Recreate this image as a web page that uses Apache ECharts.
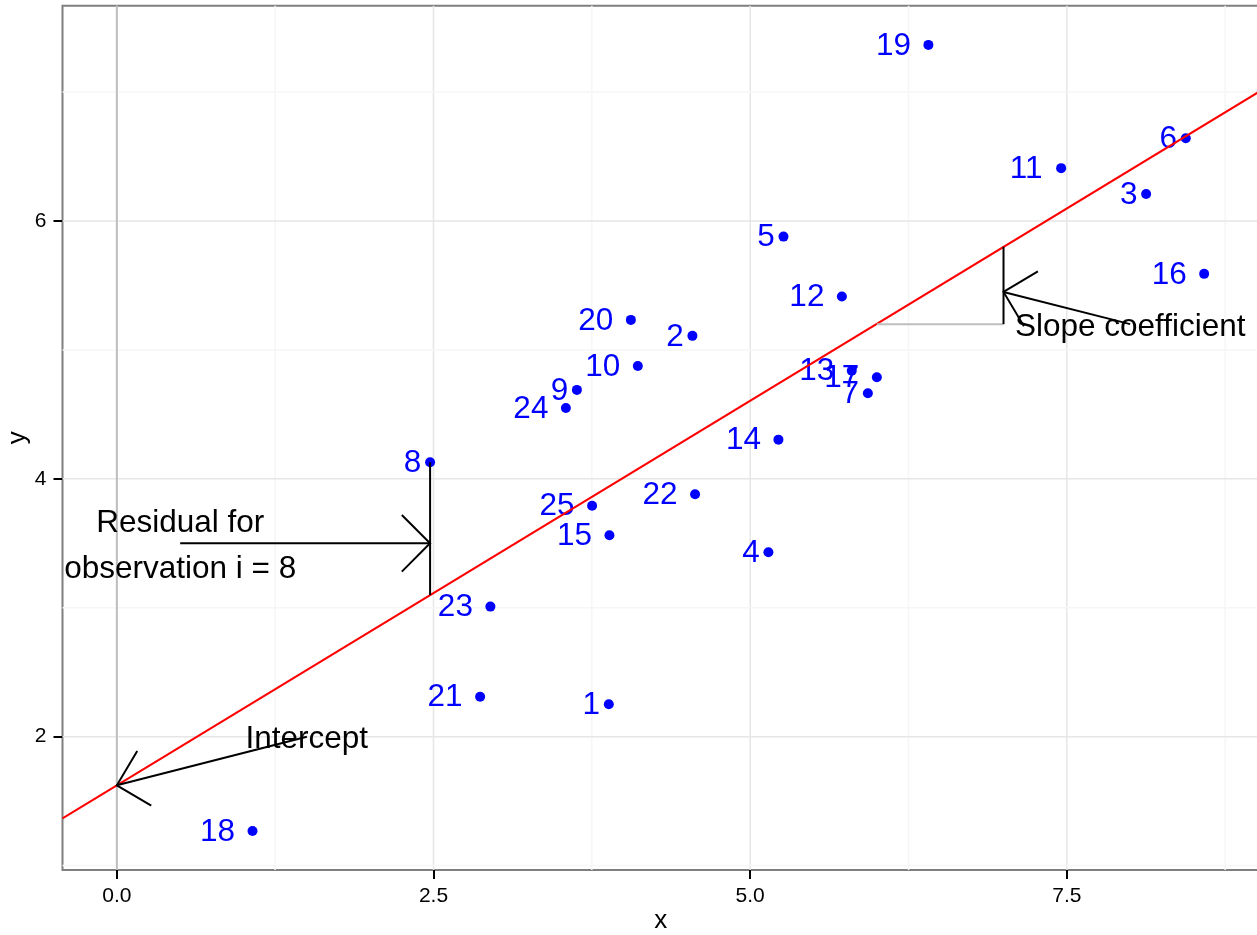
<!DOCTYPE html>
<html>
<head>
<meta charset="utf-8">
<script src="https://cdn.jsdelivr.net/npm/echarts@6/dist/echarts.min.js"></script>
<style>
html,body{margin:0;padding:0;background:#ffffff;}
#chart{width:1257px;height:935px;}
</style>
</head>
<body>
<div id="chart"></div>
<script>
// ---------------- data ----------------
const obsLabel = ['1','2','3','4','5','6','7','8','9','10','11','12','13','14','15','16','17','18','19','20','21','22','23','24','25'];
const obsX = [3.884, 4.544, 8.126, 5.144, 5.263, 8.439, 5.929, 2.473, 3.632, 4.113, 7.455, 5.724, 5.802, 5.223, 3.889, 8.584, 6.000, 1.071, 6.407, 4.058, 2.868, 4.565, 2.949, 3.545, 3.752];
const obsY = [2.251, 5.109, 6.210, 3.430, 5.879, 6.642, 4.664, 4.129, 4.690, 4.876, 6.410, 5.414, 4.839, 4.304, 3.562, 5.590, 4.788, 1.268, 7.366, 5.233, 2.310, 3.880, 3.009, 4.550, 3.792];

// fitted regression line, end points at the panel edges
const fitX = [-0.429, 9.017];
const fitY = [1.367, 7.002];

// vertical reference line
const vlineX = [0];

// segments: [x1, y1, x2, y2]
const greySegments = [[6.0, 5.2, 7.0, 5.2]];
const blackSegments = [[2.473, 3.098, 2.473, 4.129], [7.0, 5.2, 7.0, 5.8]];

// arrows: [xFrom, yFrom, xTo, yTo]
const arrows = [[0.5, 3.5, 2.473, 3.5], [1.5, 2.0, 0.0, 1.623], [8.0, 5.2, 7.0, 5.45]];

// annotation texts
const annText = ['Residual for\nobservation i = 8', 'Intercept', 'Slope coefficient'];
const annX = [0.5, 1.5, 8.0];
const annY = [3.5, 2.0, 5.2];

// axes
const xMin = -0.429, xMax = 9.017;
const yMin = 0.966, yMax = 7.670;
const xTicks = [0, 2.5, 5, 7.5];
const xTickLabels = ['0.0', '2.5', '5.0', '7.5'];
const yTicks = [2, 4, 6];
const yTickLabels = ['2', '4', '6'];
const xMinor = [1.25, 3.75, 6.25, 8.75];
const yMinor = [1, 3, 5, 7];

// ---------------- styles ----------------
const FONT = "'Liberation Sans', Arial, Helvetica, sans-serif";
const TEXT_SIZE = 31.5;
const DIGIT_W = 17.5;

const chart = echarts.init(document.getElementById('chart'), null, {renderer: 'canvas'});

const gridData = [];
xTicks.forEach(v => gridData.push([v, 0, 0, 1]));
xMinor.forEach(v => gridData.push([v, 0, 0, 0]));
yTicks.forEach(v => gridData.push([0, v, 1, 1]));
yMinor.forEach(v => gridData.push([0, v, 1, 0]));

function segRender(color) {
  return function (params, api) {
    const p1 = api.coord([api.value(0), api.value(1)]);
    const p2 = api.coord([api.value(2), api.value(3)]);
    return {type: 'line', shape: {x1: p1[0], y1: p1[1], x2: p2[0], y2: p2[1]},
            style: {stroke: color, lineWidth: 2, lineCap: 'butt'}};
  };
}

const option = {
  animation: false,
  backgroundColor: '#ffffff',
  grid: {
    left: 62.5, right: -2, top: 5.7, bottom: 65,
    containLabel: false, outerBoundsMode: 'none',
    show: true, borderColor: '#7f7f7f', borderWidth: 2, backgroundColor: '#ffffff'
  },
  xAxis: {
    type: 'value', min: xMin, max: xMax,
    axisLine: {show: false, onZero: false},
    axisTick: {show: true, customValues: xTicks, length: 9, lineStyle: {color: '#000', width: 2}},
    axisLabel: {customValues: xTicks, formatter: (v) => xTickLabels[xTicks.indexOf(v)] ?? '',
                fontSize: 21, color: '#000', margin: 16, fontFamily: FONT},
    splitLine: {show: false},
    name: 'x', nameLocation: 'middle', nameGap: 38, nameMoveOverlap: false,
    nameTextStyle: {fontSize: 26, color: '#000', fontFamily: FONT}
  },
  yAxis: {
    type: 'value', min: yMin, max: yMax,
    axisLine: {show: false, onZero: false},
    axisTick: {show: true, customValues: yTicks, length: 9, lineStyle: {color: '#000', width: 2}},
    axisLabel: {customValues: yTicks, formatter: (v) => yTickLabels[yTicks.indexOf(v)] ?? '',
                fontSize: 21, color: '#000', margin: 16, fontFamily: FONT},
    splitLine: {show: false},
    name: 'y', nameLocation: 'middle', nameGap: 32, nameRotate: 90, nameMoveOverlap: false,
    nameTextStyle: {fontSize: 26, color: '#000', fontFamily: FONT}
  },
  series: [
    { // grid lines
      type: 'custom', z: 1, silent: true,
      data: gridData,
      renderItem: function (params, api) {
        const cs = params.coordSys;
        const isY = api.value(2) === 1;
        const major = api.value(3) === 1;
        const color = major ? '#e6e6e6' : '#f6f6f6';
        if (!isY) {
          const px = api.coord([api.value(0), yMin])[0];
          return {type: 'line', shape: {x1: px, y1: cs.y, x2: px, y2: cs.y + cs.height},
                  style: {stroke: color, lineWidth: 1.5}};
        } else {
          const py = api.coord([xMin, api.value(1)])[1];
          return {type: 'line', shape: {x1: cs.x, y1: py, x2: cs.x + cs.width, y2: py},
                  style: {stroke: color, lineWidth: 1.5}};
        }
      }
    },
    { // vertical grey line at x = 0
      type: 'custom', z: 2, silent: true,
      data: vlineX.map(v => [v, yMin]),
      renderItem: function (params, api) {
        const cs = params.coordSys;
        const px = api.coord([api.value(0), api.value(1)])[0];
        return {type: 'line', shape: {x1: px, y1: cs.y, x2: px, y2: cs.y + cs.height},
                style: {stroke: '#bebebe', lineWidth: 2}};
      }
    },
    { // observations
      type: 'scatter', z: 3, silent: true,
      symbol: 'circle', symbolSize: 10,
      itemStyle: {color: '#0000ff', opacity: 1},
      label: {show: true, position: 'inside', formatter: '{b}', color: '#0000ff',
               fontSize: TEXT_SIZE, fontFamily: FONT, opacity: 1},
      data: obsX.map((x, i) => ({
        name: obsLabel[i], value: [x, obsY[i]],
        label: {offset: [-DIGIT_W * obsLabel[i].length, 1]}
      }))
    },
    { // regression line
      type: 'line', z: 4, silent: true, symbol: 'none', clip: true,
      lineStyle: {color: '#ff0000', width: 2},
      data: fitX.map((x, i) => [x, fitY[i]])
    },
    { type: 'custom', z: 5, silent: true, data: greySegments, renderItem: segRender('#bebebe') },
    { type: 'custom', z: 5, silent: true, data: blackSegments, renderItem: segRender('#000000') },
    { // arrows with open heads
      type: 'custom', z: 6, silent: true, data: arrows,
      renderItem: function (params, api) {
        const p1 = api.coord([api.value(0), api.value(1)]);
        const p2 = api.coord([api.value(2), api.value(3)]);
        const ang = Math.atan2(p1[1] - p2[1], p1[0] - p2[0]);
        const L = 40, a = Math.PI / 4;
        const h1 = [p2[0] + L * Math.cos(ang + a), p2[1] + L * Math.sin(ang + a)];
        const h2 = [p2[0] + L * Math.cos(ang - a), p2[1] + L * Math.sin(ang - a)];
        return {type: 'group', children: [
          {type: 'line', shape: {x1: p1[0], y1: p1[1], x2: p2[0], y2: p2[1]},
           style: {stroke: '#000', lineWidth: 2}},
          {type: 'polyline', shape: {points: [h1, p2, h2]},
           style: {stroke: '#000', lineWidth: 2, fill: null}}
        ]};
      }
    },
    { // annotation texts
      type: 'custom', z: 7, silent: true,
      data: annX.map((x, i) => [x, annY[i]]),
      renderItem: function (params, api) {
        const p = api.coord([api.value(0), api.value(1)]);
        return {type: 'text', x: p[0], y: p[1] + 3,
                style: {text: annText[params.dataIndex], fill: '#000', fontSize: TEXT_SIZE,
                        fontFamily: FONT, align: 'center', verticalAlign: 'middle', lineHeight: 46}};
      }
    }
  ]
};
chart.setOption(option);
</script>
</body>
</html>
